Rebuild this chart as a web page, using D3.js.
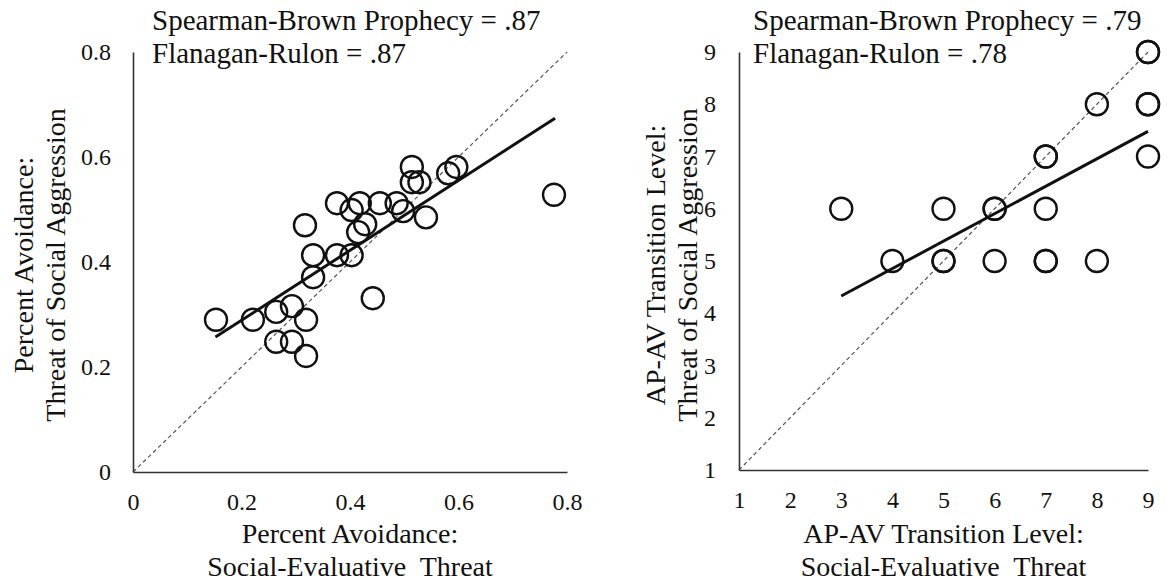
<!DOCTYPE html>
<html><head><meta charset="utf-8">
<script src="https://cdn.jsdelivr.net/npm/d3@7"></script>
<style>
body{margin:0;background:#fff}
text{font-family:"Liberation Serif","Times New Roman",serif;fill:#111}
</style>
</head><body>
<svg id="c" width="1167" height="583"></svg>
<script>
// ---- Left panel data: Percent Avoidance ----
const leftX = [0.153,0.221,0.264,0.293,0.319,0.264,0.293,0.319,0.332,0.332,0.376,0.403,0.317,0.442,0.415,0.428,0.376,0.403,0.418,0.455,0.486,0.498,0.540,0.514,0.514,0.528,0.581,0.596,0.776];
const leftY = [0.290,0.290,0.305,0.316,0.290,0.248,0.248,0.221,0.371,0.413,0.413,0.413,0.470,0.331,0.457,0.472,0.512,0.499,0.512,0.512,0.512,0.497,0.485,0.581,0.552,0.552,0.569,0.581,0.528];
const leftFitX = [0.152, 0.778];
const leftFitY = [0.257, 0.674];
const leftTicks = [0, 0.2, 0.4, 0.6, 0.8];
const leftTickLabels = ["0", "0.2", "0.4", "0.6", "0.8"];
const leftXTitle = ["Percent Avoidance:", "Social-Evaluative  Threat"];
const leftYTitle = ["Percent Avoidance:", "Threat of Social Aggression"];
const leftNotes = ["Spearman-Brown Prophecy = .87", "Flanagan-Rulon = .87"];

// ---- Right panel data: AP-AV Transition Level ----
const rightX = [3,4,5,5,5,6,6,6,7,7,7,7,7,8,8,9,9,9,9,9];
const rightY = [6,5,6,5,5,6,6,5,7,7,6,5,5,8,5,9,9,8,8,7];
const rightFitX = [3, 9];
const rightFitY = [4.33, 7.48];
const rightTicks = [1,2,3,4,5,6,7,8,9];
const rightTickLabels = ["1","2","3","4","5","6","7","8","9"];
const rightXTitle = ["AP-AV Transition Level:", "Social-Evaluative  Threat"];
const rightYTitle = ["AP-AV Transition Level:", "Threat of Social Aggression"];
const rightNotes = ["Spearman-Brown Prophecy = .79", "Flanagan-Rulon = .78"];

const svg = d3.select("#c");

function panel(o){
  const x = d3.scaleLinear().domain(o.domain).range([o.left, o.right]);
  const y = d3.scaleLinear().domain(o.domain).range([o.bottom, o.top]);
  const g = svg.append("g");

  // identity dashed line
  g.append("line")
    .attr("x1", x(o.domain[0])).attr("y1", y(o.domain[0]))
    .attr("x2", x(o.domain[1])).attr("y2", y(o.domain[1]))
    .attr("stroke", "#555").attr("stroke-width", 1.2)
    .attr("stroke-dasharray", "4,3");

  // axes
  const xa = g.append("g").attr("transform", `translate(0,${o.bottom})`)
    .call(d3.axisBottom(x).tickValues(o.ticks).tickFormat((d,i)=>o.labels[i])
      .tickSize(0).tickPadding(21));
  const ya = g.append("g").attr("transform", `translate(${o.left},0)`)
    .call(d3.axisLeft(y).tickValues(o.ticks).tickFormat((d,i)=>o.labels[i])
      .tickSize(0).tickPadding(o.ypad));
  [xa, ya].forEach(a => {
    a.select(".domain").attr("stroke", "#333").attr("stroke-width", 1.6);
    a.selectAll("text").attr("font-size", 24).attr("fill", "#111")
      .attr("font-family", '"Liberation Serif","Times New Roman",serif');
  });

  // points
  g.selectAll("circle.pt").data(o.xs.map((v,i)=>[v,o.ys[i]])).join("circle")
    .attr("class","pt")
    .attr("cx", d=>x(d[0])).attr("cy", d=>y(d[1])).attr("r", 11)
    .attr("fill", "none").attr("stroke", "#111").attr("stroke-width", 2.4);

  // fitted line
  g.append("line")
    .attr("x1", x(o.fitX[0])).attr("y1", y(o.fitY[0]))
    .attr("x2", x(o.fitX[1])).attr("y2", y(o.fitY[1]))
    .attr("stroke", "#111").attr("stroke-width", 3);

  // x title
  const cx = (o.left + o.right) / 2;
  o.xTitle.forEach((t,i) => {
    g.append("text").attr("x", cx).attr("y", 543 + i*33)
      .attr("text-anchor","middle").attr("font-size", 28)
      .style("white-space","pre").text(t);
  });
  // y title
  o.yTitle.forEach((t,i) => {
    g.append("text").attr("transform", `translate(${o.yTitleX + i*32},265) rotate(-90)`)
      .attr("text-anchor","middle").attr("font-size", 28).text(t);
  });
  // notes
  o.notes.forEach((t,i) => {
    g.append("text").attr("x", o.noteX).attr("y", 30 + i*33)
      .attr("font-size", 29).text(t);
  });
}

panel({domain:[0,0.8], left:133, right:567, top:52, bottom:472,
  ticks:leftTicks, labels:leftTickLabels, ypad:22,
  xs:leftX, ys:leftY, fitX:leftFitX, fitY:leftFitY,
  xTitle:leftXTitle, yTitle:leftYTitle, yTitleX:33, notes:leftNotes, noteX:152});

panel({domain:[1,9], left:739, right:1148, top:52, bottom:470,
  ticks:rightTicks, labels:rightTickLabels, ypad:23,
  xs:rightX, ys:rightY, fitX:rightFitX, fitY:rightFitY,
  xTitle:rightXTitle, yTitle:rightYTitle, yTitleX:665, notes:rightNotes, noteX:753});
</script>
</body></html>
